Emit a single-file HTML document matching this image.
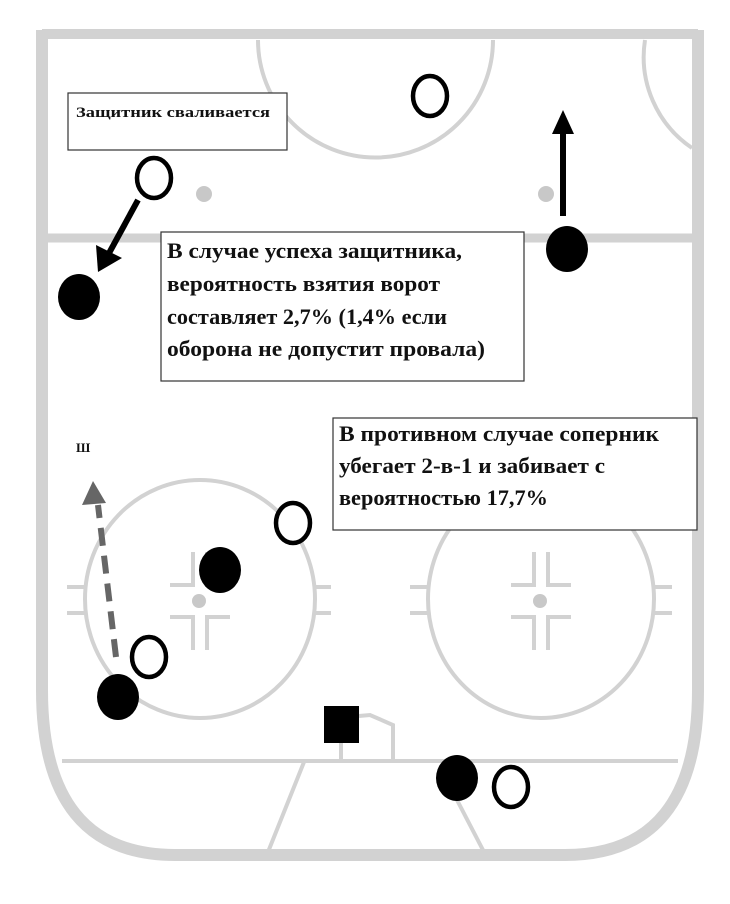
<!DOCTYPE html>
<html><head><meta charset="utf-8"><style>
html,body{margin:0;padding:0;background:#fff;}
svg{display:block}
.t{font-family:"Liberation Serif","DejaVu Serif",serif;font-weight:bold;fill:#111;}
</style></head><body>
<svg width="730" height="904" viewBox="0 0 730 904" xmlns="http://www.w3.org/2000/svg">
<g fill="none" stroke="#d2d2d2">
<path d="M42,30 L42,690 Q42,855 175,855 L565,855 Q698,855 698,690 L698,30" stroke-width="12"/>
<line x1="42" y1="34" x2="698" y2="34" stroke-width="10"/>
<line x1="48" y1="238" x2="692" y2="238" stroke-width="9"/>
<path d="M258,40 A117,117 0 0 0 493,40" stroke-width="4"/>
<path d="M645,40 A110,110 0 0 0 692,148" stroke-width="4"/>
<ellipse cx="200" cy="599" rx="115" ry="119" stroke-width="4"/>
<ellipse cx="541" cy="599" rx="113" ry="119" stroke-width="4"/>
<g stroke-width="4">
<line x1="67" y1="587" x2="85" y2="587"/><line x1="67" y1="613" x2="85" y2="613"/>
<line x1="315" y1="587" x2="331" y2="587"/><line x1="315" y1="613" x2="331" y2="613"/>
<line x1="410" y1="587" x2="428" y2="587"/><line x1="410" y1="613" x2="428" y2="613"/>
<line x1="654" y1="587" x2="672" y2="587"/><line x1="654" y1="613" x2="672" y2="613"/>
<path d="M193,552 V585 H170"/><path d="M207,552 V585 H230"/>
<path d="M170,617 H193 V650"/><path d="M230,617 H207 V650"/>
<path d="M534,552 V585 H511"/><path d="M548,552 V585 H571"/>
<path d="M511,617 H534 V650"/><path d="M571,617 H548 V650"/>
<line x1="62" y1="761" x2="678" y2="761"/>
<path d="M341,743 V761"/>
<path d="M359,716 L370,715 L393,725 L393,761"/>
<line x1="304" y1="762" x2="268" y2="852"/>
<line x1="457" y1="800" x2="484" y2="852"/>
</g>
</g>
<g fill="#c8c8c8">
<circle cx="204" cy="194" r="8"/><circle cx="546" cy="194" r="8"/>
<circle cx="199" cy="601" r="7"/><circle cx="540" cy="601" r="7"/>
</g>
<rect x="68" y="93" width="219" height="57" fill="#fff" stroke="#333" stroke-width="1.2"/>
<text class="t" x="76" y="117" font-size="15" textLength="194" lengthAdjust="spacingAndGlyphs">Защитник сваливается</text>
<rect x="161" y="232" width="363" height="149" fill="#fff" stroke="#333" stroke-width="1.2"/>
<g class="t" font-size="22">
<text x="167" y="258" textLength="295" lengthAdjust="spacingAndGlyphs">В случае успеха защитника,</text>
<text x="167" y="291" textLength="273" lengthAdjust="spacingAndGlyphs">вероятность взятия ворот</text>
<text x="167" y="324" textLength="280" lengthAdjust="spacingAndGlyphs">составляет 2,7% (1,4% если</text>
<text x="167" y="356" textLength="318" lengthAdjust="spacingAndGlyphs">оборона не допустит провала)</text>
</g>
<rect x="333" y="418" width="364" height="112" fill="#fff" stroke="#333" stroke-width="1.2"/>
<g class="t" font-size="22">
<text x="339" y="441" textLength="320" lengthAdjust="spacingAndGlyphs">В противном случае соперник</text>
<text x="339" y="473" textLength="266" lengthAdjust="spacingAndGlyphs">убегает 2-в-1 и забивает с</text>
<text x="339" y="505" textLength="209" lengthAdjust="spacingAndGlyphs">вероятностью 17,7%</text>
</g>
<text class="t" x="76" y="452" font-size="13">Ш</text>
<line x1="138" y1="200" x2="108" y2="255" stroke="#000" stroke-width="6"/>
<polygon points="98,272 96,245 122,258" fill="#000"/>
<line x1="563" y1="216" x2="563" y2="132" stroke="#000" stroke-width="6"/>
<polygon points="563,110 552,134 574,134" fill="#000"/>
<line x1="116" y1="657" x2="98" y2="505" stroke="#666" stroke-width="6" stroke-dasharray="18,10"/>
<polygon points="93,481 82,505 106,503" fill="#666"/>
<g fill="#fff" stroke="#000" stroke-width="4.5">
<ellipse cx="430" cy="96" rx="17" ry="20"/>
<ellipse cx="154" cy="178" rx="17" ry="20"/>
<ellipse cx="293" cy="523" rx="17" ry="20"/>
<ellipse cx="149" cy="657" rx="17" ry="20"/>
<ellipse cx="511" cy="787" rx="17" ry="20"/>
</g>
<g fill="#000">
<ellipse cx="79" cy="297" rx="21" ry="23"/>
<ellipse cx="567" cy="249" rx="21" ry="23"/>
<ellipse cx="220" cy="570" rx="21" ry="23"/>
<ellipse cx="118" cy="697" rx="21" ry="23"/>
<ellipse cx="457" cy="778" rx="21" ry="23"/>
<rect x="324" y="706" width="35" height="37"/>
</g>
</svg>
</body></html>
